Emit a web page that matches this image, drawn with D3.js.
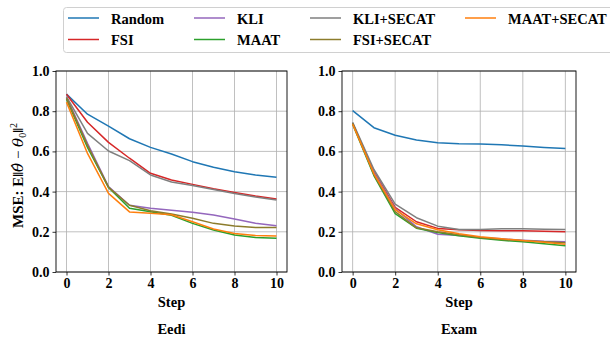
<!DOCTYPE html>
<html>
<head>
<meta charset="utf-8">
<script src="https://cdn.jsdelivr.net/npm/d3@7"></script>
<style>
  body { margin: 0; background: #fff; }
  svg text { font-family: "Liberation Serif", "Times New Roman", serif; font-weight: bold; }
</style>
</head>
<body>
<div id="chart"></div>
<script>
(function () {

// ---- data ----
const steps = [0, 1, 2, 3, 4, 5, 6, 7, 8, 9, 10];
const methods = ["Random", "FSI", "KLI", "MAAT", "KLI+SECAT", "FSI+SECAT", "MAAT+SECAT"];
const colors = ["#1f77b4", "#d62728", "#9467bd", "#2ca02c", "#7f7f7f", "#8c7c2c", "#ff7f0e"];
const yTicks = [0.0, 0.2, 0.4, 0.6, 0.8, 1.0];
const xTicks = [0, 2, 4, 6, 8, 10];

// Eedi
const eediRandom    = [0.885, 0.785, 0.726, 0.663, 0.620, 0.587, 0.549, 0.521, 0.499, 0.483, 0.471];
const eediFSI       = [0.884, 0.745, 0.645, 0.566, 0.491, 0.458, 0.436, 0.414, 0.396, 0.378, 0.363];
const eediKLI       = [0.870, 0.640, 0.425, 0.332, 0.317, 0.307, 0.297, 0.284, 0.264, 0.242, 0.230];
const eediMAAT      = [0.860, 0.620, 0.421, 0.317, 0.300, 0.282, 0.242, 0.209, 0.184, 0.172, 0.168];
const eediKLISECAT  = [0.872, 0.690, 0.602, 0.554, 0.483, 0.448, 0.430, 0.411, 0.391, 0.373, 0.358];
const eediFSISECAT  = [0.865, 0.630, 0.421, 0.332, 0.305, 0.289, 0.267, 0.242, 0.229, 0.221, 0.221];
const eediMAATSECAT = [0.845, 0.590, 0.391, 0.299, 0.292, 0.285, 0.250, 0.214, 0.192, 0.181, 0.179];

// Exam
const examRandom    = [0.803, 0.718, 0.680, 0.657, 0.643, 0.638, 0.637, 0.633, 0.627, 0.620, 0.614];
const examFSI       = [0.740, 0.500, 0.322, 0.250, 0.217, 0.210, 0.206, 0.205, 0.205, 0.203, 0.200];
const examKLI       = [0.740, 0.495, 0.315, 0.225, 0.188, 0.182, 0.172, 0.165, 0.158, 0.153, 0.151];
const examMAAT      = [0.735, 0.480, 0.290, 0.218, 0.197, 0.180, 0.168, 0.158, 0.150, 0.140, 0.131];
const examKLISECAT  = [0.745, 0.510, 0.338, 0.270, 0.228, 0.212, 0.212, 0.215, 0.215, 0.213, 0.212];
const examFSISECAT  = [0.740, 0.485, 0.300, 0.220, 0.200, 0.185, 0.172, 0.162, 0.155, 0.150, 0.145];
const examMAATSECAT = [0.735, 0.490, 0.310, 0.240, 0.210, 0.190, 0.175, 0.165, 0.157, 0.148, 0.138];

const panels = [
  {title: "Eedi", left: 56, right: 287,
   series: [eediRandom, eediFSI, eediKLI, eediMAAT, eediKLISECAT, eediFSISECAT, eediMAATSECAT]},
  {title: "Exam", left: 342, right: 576,
   series: [examRandom, examFSI, examKLI, examMAAT, examKLISECAT, examFSISECAT, examMAATSECAT]}
];

const W = 610, H = 337;
const plotTop = 71, plotBottom = 272;
const serif = "Liberation Serif";

const svg = d3.select("#chart").append("svg")
    .attr("width", W)
    .attr("height", H);

panels.forEach(p => {
  const x = d3.scaleLinear().domain([-0.5, 10.5]).range([p.left, p.right]);
  const y = d3.scaleLinear().domain([0, 1]).range([plotBottom, plotTop]);
  const g = svg.append("g");

  // grid
  g.selectAll(".vgrid").data(xTicks).join("line")
    .attr("x1", d => x(d)).attr("x2", d => x(d))
    .attr("y1", plotTop).attr("y2", plotBottom)
    .attr("stroke", "#b0b0b0").attr("stroke-width", 0.8);
  g.selectAll(".hgrid").data(yTicks).join("line")
    .attr("y1", d => y(d)).attr("y2", d => y(d))
    .attr("x1", p.left).attr("x2", p.right)
    .attr("stroke", "#b0b0b0").attr("stroke-width", 0.8);

  // lines
  const line = d3.line().x((d, i) => x(steps[i])).y(d => y(d));
  p.series.forEach((s, i) => {
    g.append("path")
      .attr("d", line(s))
      .attr("fill", "none")
      .attr("stroke", colors[i])
      .attr("stroke-width", 1.5)
      .attr("stroke-linejoin", "round");
  });

  // axes
  const xAxis = g.append("g")
    .attr("transform", "translate(0," + plotBottom + ")")
    .call(d3.axisBottom(x).tickValues(xTicks).tickSize(3.5).tickPadding(3));
  const yAxis = g.append("g")
    .attr("transform", "translate(" + p.left + ",0)")
    .call(d3.axisLeft(y).tickValues(yTicks).tickSize(3.5).tickPadding(3).tickFormat(d3.format(".1f")));
  [xAxis, yAxis].forEach(a => {
    a.attr("font-family", serif).attr("font-size", 14).attr("font-weight", "bold");
    a.select(".domain").remove();
    a.selectAll("text").attr("fill", "#000");
    a.selectAll("line").attr("stroke", "#000").attr("stroke-width", 0.8);
  });

  // frame
  g.append("rect")
    .attr("x", p.left).attr("y", plotTop)
    .attr("width", p.right - p.left).attr("height", plotBottom - plotTop)
    .attr("fill", "none").attr("stroke", "#000").attr("stroke-width", 0.9);

  const cx = (p.left + p.right) / 2;
  g.append("text").attr("x", cx).attr("y", 307)
    .attr("text-anchor", "middle").attr("font-size", 14.5).text("Step");
  g.append("text").attr("x", cx).attr("y", 334)
    .attr("text-anchor", "middle").attr("font-size", 14.5).text(p.title);
});

// y label (left panel only)
const yl = svg.append("text")
  .attr("transform", "translate(23," + ((plotTop + plotBottom) / 2 + 4) + ") rotate(-90)")
  .attr("text-anchor", "middle")
  .attr("font-size", 15);
yl.append("tspan").text("MSE: E\u2016");
yl.append("tspan").style("font-family", "DejaVu Serif").attr("font-style", "italic")
  .attr("font-weight", "normal").text("\u03B8\u0302");
yl.append("tspan").attr("font-weight", "normal").text(" \u2212 ");
yl.append("tspan").style("font-family", "DejaVu Serif").attr("font-style", "italic")
  .attr("font-weight", "normal").text("\u03B8");
yl.append("tspan").attr("font-size", 10).attr("dy", 3).attr("font-weight", "normal").text("0");
yl.append("tspan").attr("dy", -3).text("\u2016");
yl.append("tspan").attr("font-size", 10).attr("dy", -6).attr("font-weight", "normal").text("2");

// legend
const legend = svg.append("g");
legend.append("rect")
  .attr("x", 63.5).attr("y", 7.5)
  .attr("width", 560).attr("height", 45)
  .attr("rx", 3)
  .attr("fill", "#fff").attr("stroke", "#d0d0d0").attr("stroke-width", 1);

const colX = [68, 194, 310, 465];
const rowY = [18, 39.5];
methods.forEach((m, i) => {
  const col = Math.floor(i / 2), row = i % 2;
  const lx = colX[col], ly = rowY[row];
  legend.append("line")
    .attr("x1", lx).attr("x2", lx + 31)
    .attr("y1", ly).attr("y2", ly)
    .attr("stroke", colors[i]).attr("stroke-width", 1.5);
  legend.append("text")
    .attr("x", lx + 43).attr("y", ly + 5.5)
    .attr("font-size", 14.5)
    .text(m);
});

})();
</script>
</body>
</html>
